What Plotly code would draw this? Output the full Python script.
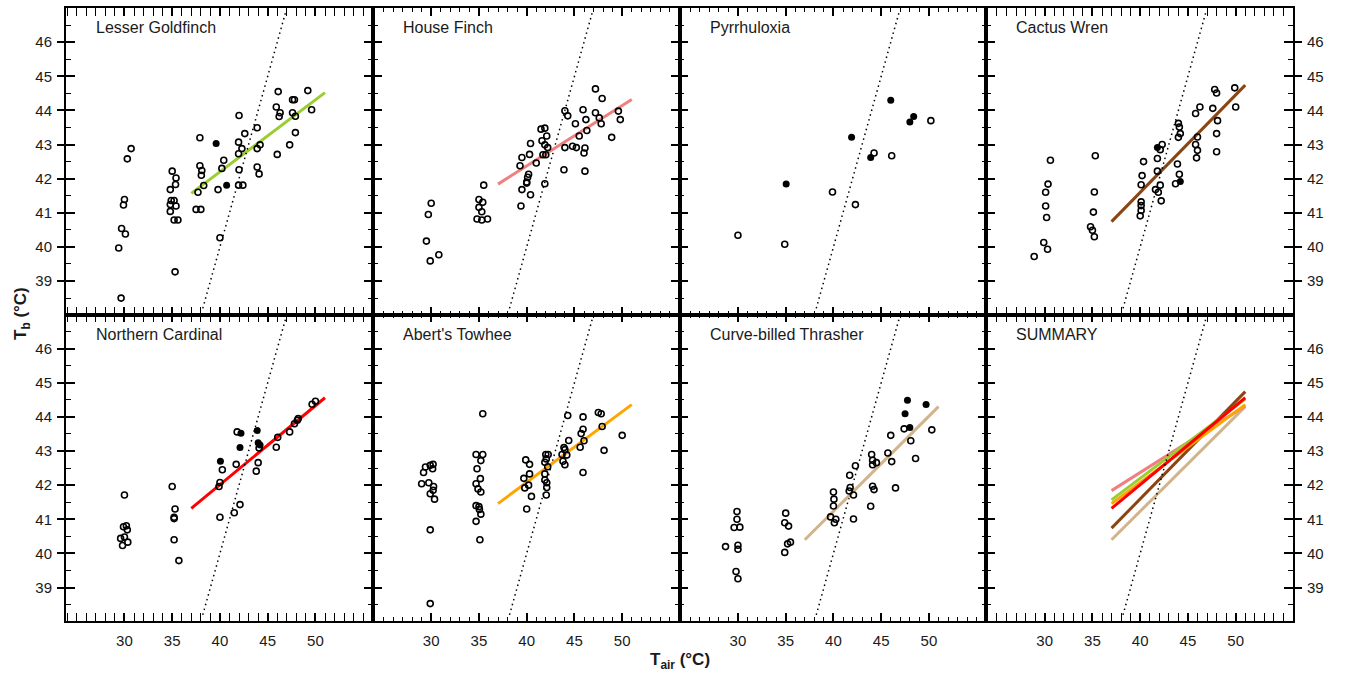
import plotly.graph_objects as go

# ---------------- data: body temperature (Tb) vs air temperature (Tair) ----------------
species = ["Lesser Goldfinch", "House Finch", "Pyrrhuloxia", "Cactus Wren",
           "Northern Cardinal", "Abert's Towhee", "Curve-billed Thrasher"]

lg_open_x = [29.65, 29.4, 29.7, 30.1, 29.9, 30.0, 30.3, 30.7, 35.3, 35.0, 35.4, 35.35, 34.8, 34.9,
             35.2, 34.8, 35.4, 34.8, 35.2, 35.6, 37.5, 38.0, 37.7, 37.9, 37.9, 38.1, 38.05, 38.3,
             39.8, 40.0, 40.4, 40.2, 42.0, 41.95, 42.3, 41.95, 42.0, 41.95, 42.4, 42.6, 43.9, 43.9,
             44.2, 43.9, 44.1, 46.1, 45.9, 46.3, 46.2, 46.0, 47.3, 47.6, 47.8, 47.6, 47.9, 47.9,
             49.2, 49.6]
lg_open_y = [38.5, 39.97, 40.54, 40.38, 41.23, 41.39, 42.58, 42.88, 39.27, 42.22, 42.02, 41.83, 41.68,
             41.36, 41.36, 41.24, 41.2, 41.04, 40.79, 40.79, 41.1, 41.1, 41.6, 43.2, 42.38, 42.24,
             42.1, 41.8, 41.68, 40.27, 42.54, 42.3, 43.85, 43.07, 42.88, 42.73, 42.26, 41.81, 41.81,
             43.32, 43.49, 42.88, 42.99, 42.34, 42.14, 44.55, 44.1, 43.93, 43.82, 42.71, 42.99,
             44.31, 44.31, 43.93, 43.83, 43.35, 44.58, 44.02]
lg_fill_x = [39.6, 40.7]
lg_fill_y = [43.03, 41.81]

hf_open_x = [30.0, 29.7, 29.5, 29.9, 30.8, 35.5, 35.0, 35.4, 35.0, 35.3, 34.8, 35.3, 35.9, 39.5, 39.3,
             40.3, 40.4, 39.5, 39.4, 40.4, 40.0, 40.1, 40.2, 40.0, 41.0, 41.5, 41.9, 42.1, 41.6, 41.9,
             41.7, 42.0, 42.2, 41.9, 44.0, 44.3, 44.0, 44.8, 45.2, 43.9, 45.1, 45.5, 45.9, 46.2, 46.3,
             46.1, 46.0, 46.1, 47.2, 47.9, 47.2, 47.6, 47.8, 48.9, 49.6, 49.8]
hf_open_y = [41.28, 40.95, 40.17, 39.59, 39.77, 41.81, 41.39, 41.31, 41.16, 41.03, 40.82, 40.79, 40.82,
             42.62, 42.38, 42.71, 43.03, 41.68, 41.2, 41.53, 41.9, 42.04, 42.13, 41.87, 42.46, 43.45,
             43.48, 43.25, 43.11, 42.99, 42.7, 42.7, 42.91, 41.85, 43.99, 43.84, 42.91, 42.95, 42.91,
             42.26, 43.61, 43.25, 44.02, 43.73, 43.41, 42.9, 42.75, 42.22, 44.63, 44.35, 43.93, 43.78,
             43.61, 43.21, 43.98, 43.73]
hf_fill_x = []
hf_fill_y = []

py_open_x = [30.0, 34.9, 39.9, 42.3, 44.25, 46.1, 50.2]
py_open_y = [40.34, 40.08, 41.61, 41.24, 42.75, 42.67, 43.7]
py_fill_x = [35.05, 41.9, 43.9, 46.0, 48.0, 48.4]
py_fill_y = [41.84, 43.21, 42.62, 44.3, 43.66, 43.82]

cw_open_x = [28.9, 29.9, 30.3, 30.2, 30.1, 30.1, 30.35, 30.6, 35.3, 35.2, 35.1, 34.8, 35.0, 35.2, 40.35,
             40.2, 40.1, 40.1, 40.1, 40.1, 40.0, 42.1, 42.3, 41.8, 41.8, 41.6, 41.9, 42.1, 42.2, 44.0,
             44.1, 44.2, 44.0, 43.9, 44.1, 43.7, 45.8, 46.25, 45.8, 46.0, 46.0, 45.9, 47.8, 47.6, 48.1,
             48.0, 48.0, 48.0, 49.9, 50.0]
cw_open_y = [39.72, 40.13, 39.93, 40.86, 41.2, 41.6, 41.84, 42.54, 42.67, 41.61, 41.02, 40.59, 40.49,
             40.3, 42.5, 42.09, 41.82, 41.32, 41.21, 41.07, 40.91, 42.85, 43.0, 42.59, 42.22, 41.68,
             41.6, 41.81, 41.35, 43.62, 43.51, 43.32, 43.21, 42.43, 42.13, 41.85, 43.91, 44.1, 43.0,
             43.22, 42.83, 42.61, 44.61, 44.06, 43.7, 43.32, 42.79, 44.51, 44.66, 44.1]
cw_fill_x = [41.8, 44.2]
cw_fill_y = [42.91, 41.92]

nc_open_x = [30.0, 29.9, 30.2, 30.3, 29.6, 30.0, 30.35, 29.8, 35.0, 35.3, 35.2, 35.2, 35.2, 35.7, 40.0,
             39.9, 40.0, 40.25, 41.7, 41.8, 41.5, 42.1, 43.8, 44.0, 44.1, 45.9, 46.05, 47.3, 47.8,
             48.2, 48.1, 49.65, 50.0]
nc_open_y = [41.71, 40.78, 40.81, 40.69, 40.44, 40.48, 40.33, 40.23, 41.96, 41.3, 41.06, 41.02, 40.4,
             39.79, 41.06, 41.96, 42.08, 42.45, 42.61, 43.56, 41.19, 41.43, 42.41, 42.66, 43.09, 43.11,
             43.4, 43.56, 43.8, 43.95, 43.9, 44.37, 44.46]
nc_fill_x = [40.05, 42.2, 42.1, 43.9, 44.0, 44.2]
nc_fill_y = [42.7, 43.52, 43.1, 43.6, 43.24, 43.18]

at_open_x = [29.9, 29.9, 29.0, 29.75, 29.2, 29.4, 29.9, 30.2, 30.15, 30.25, 30.2, 29.9, 30.35, 35.4, 34.7,
             35.4, 35.2, 34.8, 35.15, 34.7, 34.9, 35.2, 34.7, 35.0, 35.05, 35.2, 34.7, 35.1, 39.9, 40.3,
             40.3, 39.7, 40.2, 39.8, 40.5, 40.0, 42.0, 42.25, 42.05, 41.9, 42.2, 41.9, 41.9, 42.1, 42.1,
             42.05, 44.3, 44.4, 43.9, 44.0, 43.7, 44.2, 43.8, 44.0, 45.9, 45.9, 45.7, 46.0, 45.6, 45.9,
             47.5, 47.8, 47.9, 48.1, 50.0]
at_open_y = [38.53, 40.69, 42.04, 42.07, 42.37, 42.53, 42.58, 42.61, 42.48, 41.96, 41.85, 41.75, 41.59,
             44.09, 42.9, 42.9, 42.72, 42.48, 42.19, 42.04, 41.89, 41.8, 41.4, 41.37, 41.29, 41.15, 40.94,
             40.4, 42.74, 42.61, 42.33, 42.2, 42.0, 41.92, 41.67, 41.3, 42.9, 42.9, 42.77, 42.67, 42.54,
             42.33, 42.15, 42.07, 41.93, 41.71, 44.04, 43.31, 43.1, 43.04, 42.9, 42.88, 42.7, 42.6, 44.0,
             43.64, 43.51, 43.3, 43.11, 42.37, 44.13, 44.09, 43.72, 43.02, 43.46]
at_fill_x = []
at_fill_y = []

cbt_open_x = [28.7, 29.9, 29.9, 29.6, 30.2, 30.0, 30.0, 29.8, 30.0, 35.0, 34.9, 35.3, 35.2, 35.5, 34.9,
              40.0, 40.05, 40.0, 39.7, 40.25, 40.1, 41.7, 41.75, 41.65, 42.1, 42.3, 42.1, 44.0, 44.1,
              44.1, 44.5, 44.1, 44.25, 43.9, 46.0, 45.7, 46.1, 46.5, 47.4, 48.1, 48.6, 50.3]
cbt_open_y = [40.2, 41.23, 41.0, 40.76, 40.77, 40.24, 40.12, 39.47, 39.26, 41.18, 40.9, 40.8, 40.28,
              40.33, 40.03, 41.8, 41.59, 41.39, 41.07, 41.0, 40.9, 42.29, 41.93, 41.83, 41.71, 42.57,
              41.01, 42.9, 42.73, 42.6, 42.66, 41.97, 41.87, 41.38, 43.46, 42.94, 42.69, 41.92, 43.65,
              43.3, 42.78, 43.62]
cbt_fill_x = [47.75, 47.5, 48.0, 49.7]
cbt_fill_y = [44.49, 44.09, 43.69, 44.36]

# regression lines, evaluated at the ends of the fitted Tair span
fit_x = [37, 51]
fit_y = {
    "Lesser Goldfinch": [41.57, 44.52],
    "House Finch": [41.84, 44.32],
    "Cactus Wren": [40.74, 44.74],
    "Northern Cardinal": [41.32, 44.56],
    "Abert's Towhee": [41.46, 44.36],
    "Curve-billed Thrasher": [40.40, 44.30],
}
fit_color = {
    "Lesser Goldfinch": "#9ACD32",
    "House Finch": "#F08080",
    "Cactus Wren": "#8B4513",
    "Northern Cardinal": "#FF0000",
    "Abert's Towhee": "#FFA500",
    "Curve-billed Thrasher": "#D2B48C",
}
# Tb = Tair reference line
identity = [38.2, 46.85]

x_major = [25, 30, 35, 40, 45, 50, 55]
x_labels = ["", "30", "35", "40", "45", "50", ""]
y_major = [39, 40, 41, 42, 43, 44, 45, 46]
y_labels = ["39", "40", "41", "42", "43", "44", "45", "46"]

panels = [
    ("Lesser Goldfinch", lg_open_x, lg_open_y, lg_fill_x, lg_fill_y),
    ("House Finch", hf_open_x, hf_open_y, hf_fill_x, hf_fill_y),
    ("Pyrrhuloxia", py_open_x, py_open_y, py_fill_x, py_fill_y),
    ("Cactus Wren", cw_open_x, cw_open_y, cw_fill_x, cw_fill_y),
    ("Northern Cardinal", nc_open_x, nc_open_y, nc_fill_x, nc_fill_y),
    ("Abert's Towhee", at_open_x, at_open_y, at_fill_x, at_fill_y),
    ("Curve-billed Thrasher", cbt_open_x, cbt_open_y, cbt_fill_x, cbt_fill_y),
    ("SUMMARY", [], [], [], []),
]

# ---------------- layout geometry (pixels) ----------------
W, H = 1346, 681
col_left = [66, 372.75, 679.5, 986.25]
col_w = 306.75
row_top = [8, 314.5]
row_h = 306.5
x_range = [23.88, 56.0]
y_range = [38.02, 47.0]

FONT = "Liberation Sans, Arial, sans-serif"
TXT = "#1a1a1a"

fig = go.Figure()
layout = dict(
    width=W, height=H,
    margin=dict(l=0, r=0, t=0, b=0),
    paper_bgcolor="white", plot_bgcolor="white",
    showlegend=False,
    font=dict(family=FONT, size=15, color=TXT),
)
annotations = []

# extra overlay axes carrying outer labels: key -> (panel index, side)
overlay = {9: (0, "left"), 10: (4, "left"), 11: (3, "right"), 12: (7, "right")}
overlay_for_panel = {v[0]: k for k, v in overlay.items()}

for i, (name, ox, oy, fx, fy) in enumerate(panels):
    r, c = divmod(i, 4)
    n = i + 1
    xd = [col_left[c] / W, (col_left[c] + col_w) / W]
    yd = [1 - (row_top[r] + row_h) / H, 1 - row_top[r] / H]
    xa = "x" if n == 1 else f"x{n}"
    ya = "y" if n == 1 else f"y{n}"

    layout[f"xaxis{n}"] = dict(
        domain=xd, anchor=ya, range=x_range, fixedrange=True,
        showgrid=False, zeroline=False, showline=True, linecolor="black", linewidth=1.5,
        mirror="allticks", ticks="inside", ticklen=8, tickwidth=1.5, tickcolor="black",
        tickmode="array", tickvals=x_major, ticktext=x_labels,
        showticklabels=(r == 1), ticklabelstandoff=5,
        tickfont=dict(family=FONT, size=15, color=TXT),
        minor=dict(ticks="inside", ticklen=4, tickwidth=1.2, tickcolor="black",
                   tickmode="array", tickvals=list(range(24, 56))),
    )
    layout[f"yaxis{n}"] = dict(
        domain=yd, anchor=xa, range=y_range, fixedrange=True,
        showgrid=False, zeroline=False, showline=True, linecolor="black", linewidth=1.5,
        mirror="allticks", ticks="inside", ticklen=9, tickwidth=1.5, tickcolor="black",
        tickmode="array", tickvals=y_major, showticklabels=False,
        minor=dict(ticks="inside", ticklen=5, tickwidth=1.2, tickcolor="black",
                   tickmode="array", tickvals=[38.5 + 0.5 * k for k in range(18)]),
    )

    # identity line (drawn on the overlay axis where one exists)
    line_ya = ya
    if i in overlay_for_panel:
        k = overlay_for_panel[i]
        line_ya = f"y{k}"
        side = overlay[k][1]
        layout[f"yaxis{k}"] = dict(
            overlaying=ya, anchor=xa, side=side, range=y_range, fixedrange=True,
            showgrid=False, zeroline=False, showline=False,
            ticks="outside", ticklen=8, tickwidth=1.5, tickcolor="black",
            tickmode="array", tickvals=y_major, ticktext=y_labels,
            ticklabelstandoff=2,
            tickfont=dict(family=FONT, size=15, color=TXT),
        )
    fig.add_trace(go.Scatter(
        x=identity, y=identity, xaxis=xa, yaxis=line_ya, mode="lines",
        line=dict(color="black", width=1.5, dash="1.5px,3.5px"), hoverinfo="skip"))

    # regression lines
    if name == "SUMMARY":
        for sp in ["Curve-billed Thrasher", "Cactus Wren", "House Finch",
                   "Lesser Goldfinch", "Abert's Towhee", "Northern Cardinal"]:
            fig.add_trace(go.Scatter(
                x=fit_x, y=fit_y[sp], xaxis=xa, yaxis=ya, mode="lines",
                line=dict(color=fit_color[sp], width=3), name=sp))
    elif name in fit_y:
        fig.add_trace(go.Scatter(
            x=fit_x, y=fit_y[name], xaxis=xa, yaxis=ya, mode="lines",
            line=dict(color=fit_color[name], width=3), name=name))

    # individual measurements
    if ox:
        fig.add_trace(go.Scatter(
            x=ox, y=oy, xaxis=xa, yaxis=ya, mode="markers", name=name,
            marker=dict(symbol="circle-open", size=6, color="black", line=dict(width=1.6))))
    if fx:
        fig.add_trace(go.Scatter(
            x=fx, y=fy, xaxis=xa, yaxis=ya, mode="markers", name=name,
            marker=dict(symbol="circle", size=7, color="black")))

    # panel title
    annotations.append(dict(
        text=name, xref="paper", yref="paper",
        x=(col_left[c] + 28) / W, y=1 - (row_top[r] + 20) / H,
        xanchor="left", yanchor="middle", showarrow=False,
        font=dict(family=FONT, size=16, color=TXT)))

# axis titles
annotations.append(dict(
    text="<b>T<sub>air</sub> (°C)</b>", xref="paper", yref="paper",
    x=680 / W, y=1 - 661 / H, xanchor="center", yanchor="middle", showarrow=False,
    font=dict(family=FONT, size=17, color=TXT)))
annotations.append(dict(
    text="<b>T<sub>b</sub> (°C)</b>", xref="paper", yref="paper",
    x=22 / W, y=1 - 314 / H, xanchor="center", yanchor="middle", showarrow=False,
    textangle=-90, font=dict(family=FONT, size=17, color=TXT)))

layout["annotations"] = annotations
fig.update_layout(**layout)
fig.write_html("out.html")
